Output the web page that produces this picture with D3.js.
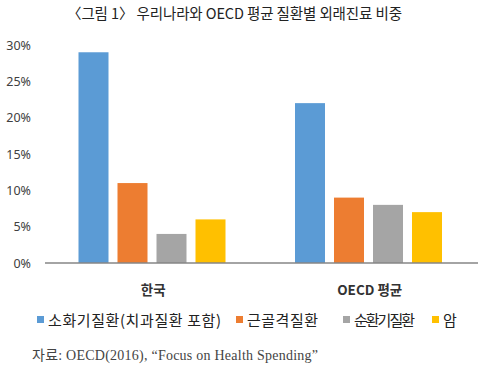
<!DOCTYPE html>
<html>
<head>
<meta charset="utf-8">
<script src="https://d3js.org/d3.v7.min.js"></script>
<style>
  body { margin: 0; background: #fff; }
  text { font-family: 'Noto Sans CJK KR', 'Noto Sans', sans-serif; }
</style>
</head>
<body>
<svg id="chart"></svg>
<script>
// chart data
var groups = ['한국', 'OECD 평균'];
var series = ['소화기질환(치과질환 포함)', '근골격질환', '순환기질환', '암'];
var values = [
  [29, 22],   // 소화기질환
  [11, 9],    // 근골격질환
  [4, 8],     // 순환기질환
  [6, 7]      // 암
];
var yTicks = [0, 5, 10, 15, 20, 25, 30];
var colors = ['#5B9BD5', '#ED7D31', '#A5A5A5', '#FFC000'];

var width = 483, height = 370;
var svg = d3.select('#chart').attr('width', width).attr('height', height);

var x0 = d3.scaleBand().domain(groups).range([45, 478]);
var x1 = d3.scaleBand().domain(series).range([33.5, 33.5 + 147]).paddingInner(9 / 39);
var y = d3.scaleLinear().domain([0, 30]).range([263, 45]);

// title
svg.append('text')
  .attr('x', 67).attr('y', 19)
  .attr('textLength', 335).attr('lengthAdjust', 'spacing')
  .attr('font-size', 14.5)
  .attr('fill', '#222')
  .text('〈그림 1〉 우리나라와 OECD 평균 질환별 외래진료 비중');

// y axis labels
var yAxis = svg.append('g')
  .attr('transform', 'translate(31,0)')
  .call(d3.axisLeft(y).tickValues(yTicks).tickSize(0).tickPadding(0)
    .tickFormat(function(d) { return d + '%'; }));
yAxis.select('.domain').remove();
yAxis.selectAll('text')
  .attr('font-size', 12.5)
  .attr('fill', '#404040')
  .style('font-family', "'Noto Sans', sans-serif");

// bars
var g = svg.selectAll('.grp')
  .data(groups)
  .enter().append('g')
  .attr('transform', function(d) { return 'translate(' + x0(d) + ',0)'; });

g.selectAll('rect')
  .data(function(d, gi) {
    return series.map(function(s, si) { return { s: s, v: values[si][gi], c: colors[si] }; });
  })
  .enter().append('rect')
  .attr('x', function(d) { return x1(d.s); })
  .attr('width', x1.bandwidth())
  .attr('y', function(d) { return y(d.v); })
  .attr('height', function(d) { return y(0) - y(d.v); })
  .attr('fill', function(d) { return d.c; });

// baseline
svg.append('line')
  .attr('x1', 45).attr('x2', 478)
  .attr('y1', y(0)).attr('y2', y(0))
  .attr('stroke', '#868686').attr('stroke-width', 1.3);

// category labels
svg.selectAll('.cat')
  .data(groups)
  .enter().append('text')
  .attr('x', function(d) { return x0(d) + x0.bandwidth() / 2; })
  .attr('y', 295)
  .attr('text-anchor', 'middle')
  .attr('font-size', 13.5)
  .attr('font-weight', 'bold')
  .attr('fill', '#333')
  .text(function(d) { return d; });

// legend
var legendX = [37, 236, 343, 432];
var legendW = [173, 71, 61, 13];
var leg = svg.selectAll('.leg')
  .data(series)
  .enter().append('g')
  .attr('transform', function(d, i) { return 'translate(' + legendX[i] + ',320)'; });
leg.append('rect')
  .attr('x', 0).attr('y', -4)
  .attr('width', 7).attr('height', 7)
  .attr('fill', function(d, i) { return colors[i]; });
leg.append('text')
  .attr('x', 11).attr('y', 6)
  .attr('font-size', 15)
  .attr('textLength', function(d, i) { return legendW[i]; })
  .attr('lengthAdjust', 'spacing')
  .attr('fill', '#222')
  .text(function(d) { return d; });

// source
svg.append('text')
  .attr('x', 32).attr('y', 360)
  .attr('font-size', 14)
  .attr('textLength', 286).attr('lengthAdjust', 'spacing')
  .attr('fill', '#444')
  .style('font-family', "'Liberation Serif', 'Noto Sans CJK KR', serif")
  .text('자료: OECD(2016), “Focus on Health Spending”');
</script>
</body>
</html>
